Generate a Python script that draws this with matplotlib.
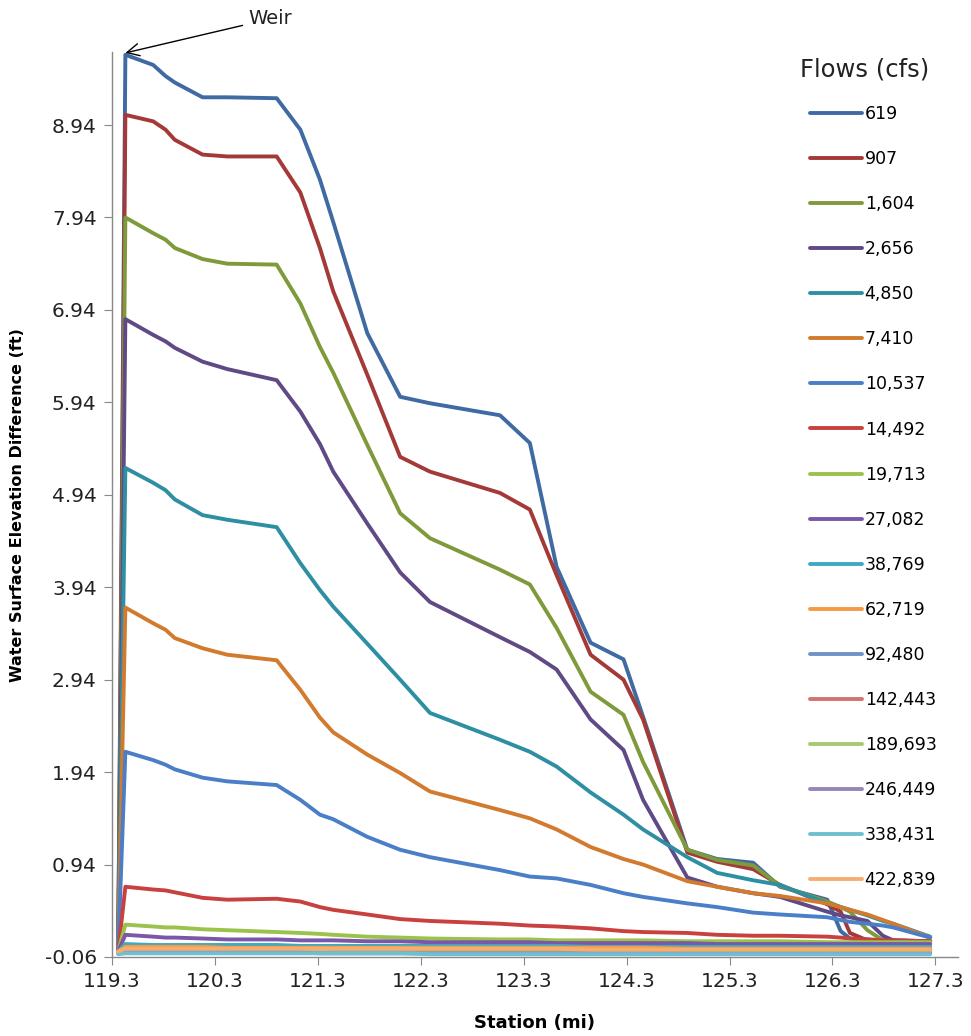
import matplotlib
matplotlib.use("Agg")
import matplotlib.pyplot as plt

# ---------------- data ----------------
stations = [119.36, 119.43, 119.70, 119.82, 119.91, 120.18, 120.42, 120.90, 121.13, 121.32,
            121.45, 121.78, 122.10, 122.39, 123.07, 123.36, 123.62, 123.95, 124.27, 124.46,
            124.89, 125.18, 125.53, 125.79, 126.25, 126.38, 126.47, 126.64, 126.79, 126.89,
            127.25]

flow_labels = ["619", "907", "1,604", "2,656", "4,850", "7,410", "10,537", "14,492",
               "19,713", "27,082", "38,769", "62,719", "92,480", "142,443", "189,693",
               "246,449", "338,431", "422,839"]

q619 = [0.0, 9.70, 9.59, 9.47, 9.40, 9.24, 9.24, 9.23, 8.89, 8.35, 7.89, 6.69, 6.00, 5.93, 5.80,
        5.50, 4.16, 3.34, 3.16, 2.54, 1.10, 1.00, 0.96, 0.70, 0.56, 0.22, 0.14, 0.13, 0.12, 0.12, 0.11]
q907 = [0.0, 9.05, 8.98, 8.89, 8.78, 8.62, 8.60, 8.60, 8.21, 7.61, 7.14, 6.24, 5.35, 5.19, 4.96,
        4.78, 4.07, 3.21, 2.94, 2.51, 1.07, 0.97, 0.89, 0.72, 0.51, 0.43, 0.20, 0.12, 0.11, 0.11, 0.11]
q1604 = [0.0, 7.94, 7.77, 7.70, 7.61, 7.49, 7.44, 7.43, 7.01, 6.54, 6.26, 5.48, 4.74, 4.47, 4.13,
         3.97, 3.50, 2.81, 2.56, 2.05, 1.10, 0.99, 0.93, 0.71, 0.54, 0.48, 0.43, 0.23, 0.12, 0.11, 0.11]
q2656 = [0.0, 6.84, 6.67, 6.60, 6.53, 6.38, 6.30, 6.18, 5.84, 5.49, 5.19, 4.63, 4.10, 3.78, 3.40,
         3.24, 3.05, 2.51, 2.18, 1.64, 0.80, 0.70, 0.63, 0.59, 0.43, 0.39, 0.37, 0.33, 0.17, 0.12, 0.11]
q4850 = [0.0, 5.23, 5.07, 4.99, 4.89, 4.72, 4.67, 4.59, 4.20, 3.91, 3.73, 3.33, 2.94, 2.58, 2.29,
         2.16, 2.00, 1.72, 1.48, 1.32, 1.02, 0.85, 0.77, 0.72, 0.52, 0.48, 0.45, 0.39, 0.33, 0.30, 0.16]
q7410 = [0.0, 3.72, 3.55, 3.48, 3.39, 3.28, 3.21, 3.15, 2.83, 2.53, 2.37, 2.13, 1.93, 1.73, 1.53,
         1.44, 1.32, 1.13, 1.00, 0.94, 0.76, 0.70, 0.63, 0.60, 0.52, 0.48, 0.45, 0.40, 0.34, 0.30, 0.15]
q10537 = [0.0, 2.16, 2.07, 2.02, 1.97, 1.88, 1.84, 1.80, 1.64, 1.48, 1.43, 1.24, 1.10, 1.02, 0.88,
          0.81, 0.79, 0.72, 0.63, 0.59, 0.52, 0.48, 0.42, 0.40, 0.37, 0.34, 0.32, 0.30, 0.28, 0.26, 0.15]
q14492 = [0.0, 0.70, 0.67, 0.66, 0.64, 0.58, 0.56, 0.57, 0.54, 0.48, 0.45, 0.40, 0.35, 0.33, 0.30,
          0.28, 0.27, 0.25, 0.22, 0.21, 0.20, 0.18, 0.17, 0.17, 0.16, 0.15, 0.14, 0.13, 0.12, 0.12, 0.11]
q19713 = [0.0, 0.29, 0.27, 0.26, 0.26, 0.24, 0.23, 0.21, 0.20, 0.19, 0.18, 0.16, 0.15, 0.14, 0.13,
          0.13, 0.12, 0.12, 0.12, 0.12, 0.11, 0.11, 0.11, 0.11, 0.10, 0.10, 0.10, 0.10, 0.10, 0.10, 0.10]
q27082 = [0.0, 0.18, 0.16, 0.15, 0.15, 0.14, 0.13, 0.13, 0.12, 0.12, 0.12, 0.11, 0.11, 0.10, 0.10,
          0.10, 0.09, 0.09, 0.09, 0.09, 0.09, 0.08, 0.08, 0.08, 0.08, 0.08, 0.08, 0.08, 0.08, 0.08, 0.08]
q38769 = [0.0, 0.08, 0.07, 0.07, 0.07, 0.07, 0.07, 0.07, 0.06, 0.06, 0.06, 0.06, 0.06, 0.06, 0.06,
          0.06, 0.06, 0.05, 0.05, 0.05, 0.05, 0.05, 0.05, 0.05, 0.05, 0.05, 0.05, 0.05, 0.05, 0.05, 0.05]
q62719 = [0.0, 0.05, 0.05, 0.05, 0.05, 0.05, 0.04, 0.04, 0.04, 0.04, 0.04, 0.04, 0.04, 0.04, 0.04,
          0.04, 0.04, 0.04, 0.04, 0.04, 0.03, 0.03, 0.03, 0.03, 0.03, 0.03, 0.03, 0.03, 0.03, 0.03, 0.03]
q92480 = [0.0, 0.02, 0.02, 0.02, 0.02, 0.02, 0.02, 0.02, 0.02, 0.02, 0.02, 0.02, 0.02, 0.02, 0.01,
          0.01, 0.01, 0.01, 0.01, 0.01, 0.01, 0.01, 0.01, 0.01, 0.01, 0.01, 0.01, 0.01, 0.01, 0.01, 0.01]
q142443 = [0.0, 0.01, 0.01, 0.01, 0.01, 0.01, 0.01, 0.01, 0.01, 0.01, 0.01, 0.00, 0.00, 0.00, 0.00,
           0.00, 0.00, 0.00, 0.00, 0.00, 0.00, 0.00, 0.00, 0.00, 0.00, 0.00, 0.00, 0.00, 0.00, 0.00, 0.00]
q189693 = [-0.01, 0.00, 0.00, 0.00, 0.00, 0.00, 0.00, 0.00, 0.00, 0.00, -0.01, -0.01, -0.01, -0.01, -0.01,
           -0.01, -0.01, -0.01, -0.01, -0.01, -0.01, -0.01, -0.01, -0.01, -0.01, -0.01, -0.01, -0.01, -0.01, -0.01, -0.01]
q246449 = [-0.02, -0.01, -0.01, -0.01, -0.01, -0.01, -0.01, -0.01, -0.01, -0.02, -0.02, -0.02, -0.02, -0.02, -0.02,
           -0.02, -0.02, -0.02, -0.02, -0.02, -0.02, -0.02, -0.02, -0.02, -0.02, -0.02, -0.02, -0.02, -0.02, -0.02, -0.02]
q338431 = [-0.03, -0.02, -0.02, -0.02, -0.02, -0.02, -0.02, -0.02, -0.02, -0.02, -0.02, -0.02, -0.02, -0.03, -0.03,
           -0.03, -0.03, -0.03, -0.03, -0.03, -0.03, -0.03, -0.03, -0.03, -0.03, -0.03, -0.03, -0.03, -0.03, -0.03, -0.03]
q422839 = [0.0, 0.03, 0.03, 0.03, 0.03, 0.03, 0.03, 0.03, 0.03, 0.03, 0.03, 0.03, 0.03, 0.03, 0.03,
           0.03, 0.03, 0.02, 0.02, 0.02, 0.02, 0.02, 0.02, 0.02, 0.02, 0.02, 0.02, 0.02, 0.02, 0.02, 0.02]

series = [q619, q907, q1604, q2656, q4850, q7410, q10537, q14492, q19713, q27082,
          q38769, q62719, q92480, q142443, q189693, q246449, q338431, q422839]

colors = ['#3F6AA2', '#A33A37', '#7F9A3A', '#5F4A86', '#2E8FA3', '#D27A2E',
          '#4A7FC7', '#C8413F', '#9BC24C', '#7A57A8', '#3FA9C4', '#F59A45',
          '#6F93C8', '#D07472', '#A9C773', '#9A85B7', '#6FBFD2', '#F6AE70']

x_ticks = [119.3, 120.3, 121.3, 122.3, 123.3, 124.3, 125.3, 126.3, 127.3]
y_ticks = [-0.06, 0.94, 1.94, 2.94, 3.94, 4.94, 5.94, 6.94, 7.94, 8.94]

# ---------------- figure ----------------
W, H = 971, 1036
fig = plt.figure(figsize=(W / 100, H / 100), dpi=100)
ax = fig.add_axes([112 / W, 1 - 957 / H, (958 - 112) / W, (957 - 52) / H])

for vals, col, lab in zip(series, colors, flow_labels):
    ax.plot(stations, vals, color=col, lw=2.8, solid_joinstyle='round',
            solid_capstyle='round', label=lab)

ax.set_xlim(119.3, 127.52)
ax.set_ylim(-0.06, 9.73)
ax.set_xticks(x_ticks)
ax.set_xticklabels([f"{v:.1f}" for v in x_ticks])
ax.set_yticks(y_ticks)
ax.set_yticklabels([f"{v:.2f}" for v in y_ticks])

for s in ['top', 'right']:
    ax.spines[s].set_visible(False)
for s in ['left', 'bottom']:
    ax.spines[s].set_color('#888888')
    ax.spines[s].set_linewidth(1.0)
ax.tick_params(axis='both', direction='out', length=6, color='#888888',
               labelsize=14.5, labelcolor='#222222', pad=5)

ax.set_xlabel("Station (mi)", fontsize=13, fontweight='bold', labelpad=16)
fig.text(18 / W, 1 - 505 / H, "Water Surface Elevation Difference (ft)", rotation=90,
         fontsize=11.5, fontweight='bold', ha='center', va='center')

# Weir annotation
ax.annotate("Weir", xy=(119.43, 9.72), xycoords='data',
            xytext=(248 / W, 1 - 19 / H), textcoords='figure fraction',
            fontsize=14, color='#222222', va='center', ha='left',
            arrowprops=dict(arrowstyle='->', color='black', lw=1.0,
                            shrinkA=2, shrinkB=0, mutation_scale=22),
            annotation_clip=False)

# Legend (title placed as separate text for exact positioning)
fig.text(800 / W, 1 - 70 / H, "Flows (cfs)", fontsize=17.5, ha='left', va='center',
         color='#222222')
leg = fig.legend(loc='upper left', bbox_to_anchor=(803 / W, 1 - 98 / H),
                 frameon=False, fontsize=12.5, handlelength=3.0, handletextpad=0.15,
                 labelspacing=1.56, borderaxespad=0)

fig.savefig("out.png", dpi=100)
